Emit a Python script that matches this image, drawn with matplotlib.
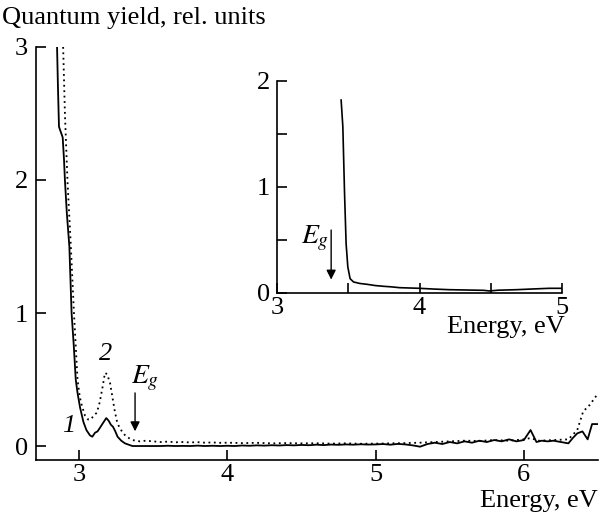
import numpy as np
import matplotlib
matplotlib.use("Agg")
import matplotlib.pyplot as plt

plt.rcParams['font.family'] = ['Liberation Serif', 'DejaVu Serif']
plt.rcParams['mathtext.fontset'] = 'stix'

# curve 1 (solid)
x1 = [2.852, 2.858, 2.865, 2.89, 2.899, 2.905, 2.918, 2.935, 2.95, 2.965, 2.978, 2.99,
      3.007, 3.03, 3.05, 3.074, 3.09, 3.108, 3.125, 3.14, 3.16, 3.184, 3.2, 3.215, 3.229,
      3.245, 3.26, 3.285, 3.31, 3.34, 3.36, 3.4,
      3.45, 3.5, 3.55, 3.6, 3.65, 3.7, 3.75, 3.8, 3.85, 3.9, 3.95, 4.0, 4.05, 4.1, 4.15,
      4.2, 4.25, 4.3, 4.35, 4.4, 4.45, 4.5, 4.55, 4.6, 4.65, 4.7, 4.75, 4.8, 4.85, 4.9,
      4.95, 5.0, 5.05, 5.1, 5.15, 5.2, 5.25, 5.3, 5.35, 5.4, 5.45, 5.5, 5.55, 5.6, 5.65,
      5.7, 5.75, 5.8, 5.85, 5.9, 5.95, 6.0, 6.045, 6.085, 6.12, 6.16, 6.2, 6.25, 6.3,
      6.33, 6.36, 6.395, 6.43, 6.46, 6.5]
y1 = [3.0, 2.7, 2.4, 2.32, 2.15, 2.0, 1.75, 1.5, 1.0, 0.75, 0.5, 0.4,
      0.29, 0.18, 0.12, 0.08, 0.07, 0.1, 0.11, 0.135, 0.17, 0.21, 0.19, 0.16, 0.145,
      0.11, 0.07, 0.04, 0.02, 0.008, 0.0, 0.0,
      0.0, 0.0, 0.0, 0.002, 0.0, 0.001, 0.0, 0.003, 0.0, 0.002, 0.0, 0.002, 0.0, 0.004, 0.002,
      0.005, 0.003, 0.006, 0.004, 0.007, 0.005, 0.008, 0.006, 0.01, 0.007, 0.011, 0.009, 0.012, 0.01, 0.013,
      0.011, 0.012, 0.015, 0.01, 0.016, 0.012, 0.005, -0.005, 0.015, 0.025, 0.015, 0.03, 0.02, 0.035, 0.025,
      0.04, 0.03, 0.045, 0.035, 0.05, 0.035, 0.045, 0.12, 0.03, 0.04, 0.035, 0.04, 0.03, 0.02,
      0.06, 0.095, 0.11, 0.05, 0.165, 0.165]

# curve 2 (dotted)
x2 = [2.893, 2.905, 2.922, 2.945, 2.966, 2.978, 2.99, 3.005, 3.02, 3.04, 3.06, 3.08, 3.1,
      3.12, 3.14, 3.16, 3.175, 3.19, 3.21, 3.225, 3.24, 3.255, 3.27, 3.295, 3.32, 3.36, 3.41,
      3.45, 3.5, 3.55, 3.6, 3.65, 3.7, 3.75, 3.8, 3.85, 3.9, 3.95, 4.0, 4.1, 4.2, 4.3, 4.4,
      4.5, 4.6, 4.7, 4.8, 4.9, 5.0, 5.1, 5.2, 5.3, 5.4, 5.5, 5.6, 5.7, 5.8, 5.9, 6.0, 6.045,
      6.1, 6.2, 6.3, 6.36, 6.4, 6.445, 6.49, 6.5]
y2 = [3.0, 2.5, 2.0, 1.5, 1.0, 0.75, 0.5, 0.37, 0.3, 0.23, 0.2, 0.2, 0.23,
      0.25, 0.33, 0.45, 0.55, 0.54, 0.47, 0.37, 0.27, 0.19, 0.145, 0.1, 0.07, 0.045, 0.035,
      0.04, 0.035, 0.03, 0.033, 0.028, 0.03, 0.027, 0.029, 0.025, 0.027, 0.024, 0.025, 0.022, 0.024, 0.02, 0.022,
      0.02, 0.021, 0.018, 0.02, 0.017, 0.018, 0.02, 0.022, 0.025, 0.03, 0.035, 0.04, 0.038, 0.045, 0.04, 0.05, 0.06,
      0.04, 0.045, 0.05, 0.12, 0.26, 0.31, 0.38, 0.39]

# inset curve
xi = [3.45, 3.462, 3.474, 3.485, 3.497, 3.513, 3.537, 3.58, 3.63, 3.69, 3.747, 3.8, 3.86,
      3.93, 4.0, 4.1, 4.21, 4.33, 4.45, 4.49, 4.55, 4.68, 4.8, 4.91, 5.0]
yi = [1.82, 1.57, 0.94, 0.465, 0.245, 0.135, 0.104, 0.09, 0.082, 0.07, 0.063, 0.058, 0.05,
      0.047, 0.044, 0.037, 0.031, 0.028, 0.025, 0.019, 0.026, 0.031, 0.038, 0.044, 0.044]

fs = 19
fig = plt.figure(figsize=(6.04, 5.19), dpi=100)


def style(ax):
    for s in ('top', 'right'):
        ax.spines[s].set_visible(False)
    for s in ('left', 'bottom'):
        ax.spines[s].set_linewidth(1.2)
    ax.tick_params(direction='in', length=7, width=1.2, labelsize=fs, pad=3)
    ax.tick_params(which='minor', direction='in', length=7, width=1.2)


ax = fig.add_axes([0.0596, 0.1137, 0.9305, 0.7958])
style(ax)
ax.plot(x1, y1, color='black', lw=1.3)
ax.plot(x2, y2, color='black', lw=1.3, linestyle=(0, (1, 2)))
ax.set_xlim(2.71, 6.5)
ax.set_ylim(-0.105, 3.0)
ax.set_xticks([3, 4, 5, 6])
ax.set_yticks([0, 1, 2, 3])
ax.tick_params(axis='y', pad=6)
ax.annotate('', xy=(3.378, 0.09), xytext=(3.378, 0.42),
            arrowprops=dict(arrowstyle='-|>', color='black', lw=1.0, mutation_scale=14))
ax.text(3.35, 0.51, r'$E_g$', fontsize=fs + 1, va='center', ha='left')
ax.text(3.18, 0.69, '2', fontsize=fs, style='italic', ha='center', va='center')
ax.text(2.93, 0.15, '1', fontsize=fs, style='italic', ha='center', va='center')
fig.text(0.003, 0.966, 'Quantum yield, rel. units', fontsize=fs, ha='left', va='center')
fig.text(0.99, 0.035, 'Energy, eV', fontsize=fs, ha='right', va='center')

ins = fig.add_axes([0.4586, 0.4355, 0.4719, 0.4085])
style(ins)
ins.plot(xi, yi, color='black', lw=1.2)
ins.set_xlim(3, 5)
ins.set_ylim(0, 2)
ins.set_xticks([3, 4, 5])
ins.set_xticks([3.5, 4.5], minor=True)
ins.set_yticks([0, 1, 2])
ins.set_yticks([0.5, 1.5], minor=True)
ins.tick_params(axis='y', pad=5)
ins.annotate('', xy=(3.38, 0.1), xytext=(3.38, 0.62),
             arrowprops=dict(arrowstyle='-|>', color='black', lw=1.0, mutation_scale=14))
ins.text(3.17, 0.52, r'$E_g$', fontsize=fs + 1, va='center', ha='left')
fig.text(0.935, 0.37, 'Energy, eV', fontsize=fs, ha='right', va='center')

fig.savefig('out.png', dpi=100)
